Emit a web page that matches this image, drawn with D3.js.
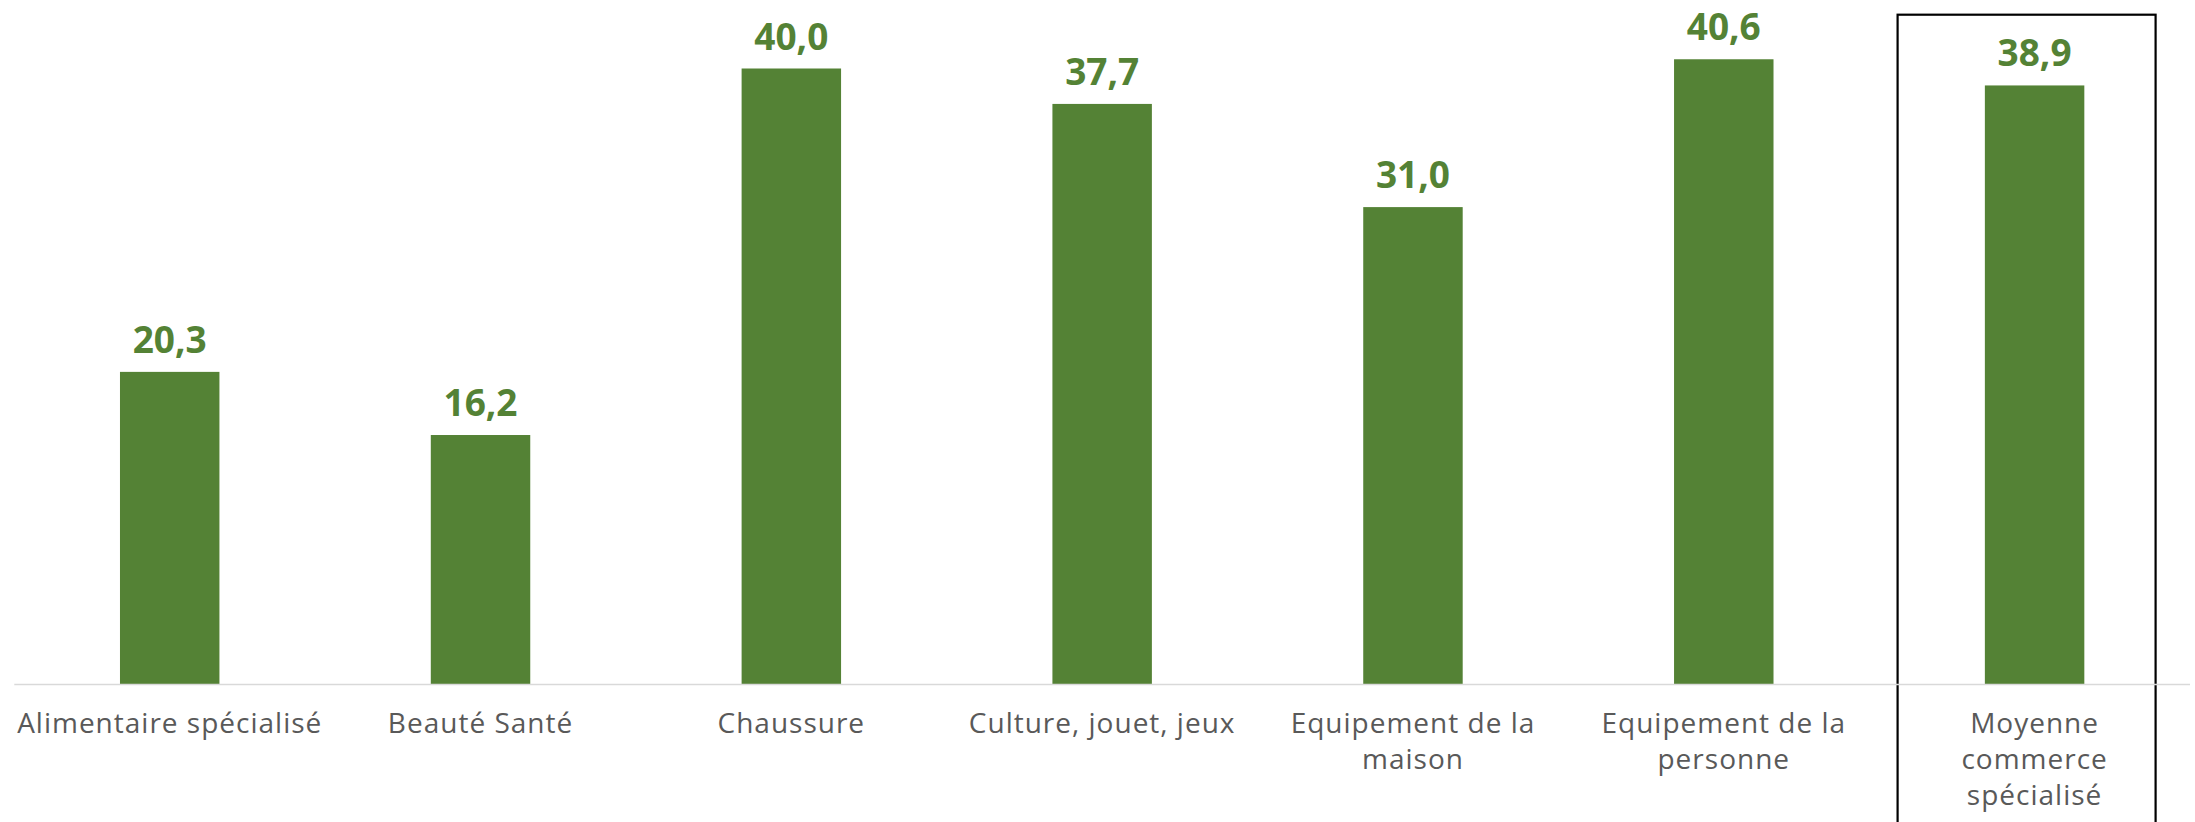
<!DOCTYPE html>
<html lang="fr">
<head>
<meta charset="utf-8">
<script src="https://cdn.jsdelivr.net/npm/d3@7"></script>
<style>
  html, body { margin: 0; padding: 0; background: #ffffff; }
  svg { display: block; }
</style>
</head>
<body>
<svg id="chart" width="2195" height="822"></svg>
<script>
// Categories (label lines as wrapped under each bar)
const categories = [
  "Alimentaire spécialisé",
  "Beauté Santé",
  "Chaussure",
  "Culture, jouet, jeux",
  "Equipement de la maison",
  "Equipement de la personne",
  "Moyenne commerce spécialisé"
];
const categoryLines = [
  ["Alimentaire spécialisé"],
  ["Beauté Santé"],
  ["Chaussure"],
  ["Culture, jouet, jeux"],
  ["Equipement de la", "maison"],
  ["Equipement de la", "personne"],
  ["Moyenne", "commerce", "spécialisé"]
];
const values = [20.3, 16.2, 40.0, 37.7, 31.0, 40.6, 38.9];
// The last category is the overall average, outlined with a frame
const highlighted = "Moyenne commerce spécialisé";

const width = 2195, height = 822;
const baseline = 684.5;
const green = "#548235";
const grey = "#595959";

const svg = d3.select("#chart");

const x = d3.scaleBand()
  .domain(categories)
  .range([14.3, 2190])
  .paddingInner(0.68)
  .paddingOuter(0.34);

const y = d3.scaleLinear()
  .domain([0, 45])
  .range([baseline, baseline - 45 * 15.4]);

const fmt = v => d3.format(".1f")(v).replace(".", ",");

// Frame around the average column
const step = x.step();
const hx = x(highlighted) + x.bandwidth() / 2;
svg.append("rect")
  .attr("x", hx - 137)
  .attr("y", 14.7)
  .attr("width", 258)
  .attr("height", height)
  .attr("fill", "none")
  .attr("stroke", "#000000")
  .attr("stroke-width", 2.2);

// Bars
svg.append("g")
  .selectAll("rect")
  .data(values)
  .join("rect")
  .attr("x", (d, i) => x(categories[i]))
  .attr("y", d => y(d))
  .attr("width", x.bandwidth())
  .attr("height", d => y(0) - y(d))
  .attr("fill", green);

// Category axis line
svg.append("line")
  .attr("x1", x.range()[0])
  .attr("x2", x.range()[1])
  .attr("y1", baseline)
  .attr("y2", baseline)
  .attr("stroke", "#d9d9d9")
  .attr("stroke-width", 1.6);

// Value labels
svg.append("g")
  .selectAll("text")
  .data(values)
  .join("text")
  .attr("x", (d, i) => x(categories[i]) + x.bandwidth() / 2)
  .attr("y", d => y(d) - 19)
  .attr("text-anchor", "middle")
  .attr("font-family", "'Open Sans', sans-serif")
  .attr("font-weight", 700)
  .attr("font-size", 37)
  .attr("fill", green)
  .text(d => fmt(d));

// Category labels
const labels = svg.append("g")
  .selectAll("text")
  .data(categories)
  .join("text")
  .attr("x", d => x(d) + x.bandwidth() / 2)
  .attr("y", 733)
  .attr("text-anchor", "middle")
  .attr("font-family", "'Open Sans', sans-serif")
  .attr("font-size", 28)
  .attr("letter-spacing", 1)
  .attr("fill", grey);

labels.each(function(d, i) {
  const t = d3.select(this);
  categoryLines[i].forEach((line, j) => {
    t.append("tspan")
      .attr("x", x(d) + x.bandwidth() / 2)
      .attr("dy", j === 0 ? 0 : 36)
      .text(line);
  });
});
</script>
</body>
</html>
